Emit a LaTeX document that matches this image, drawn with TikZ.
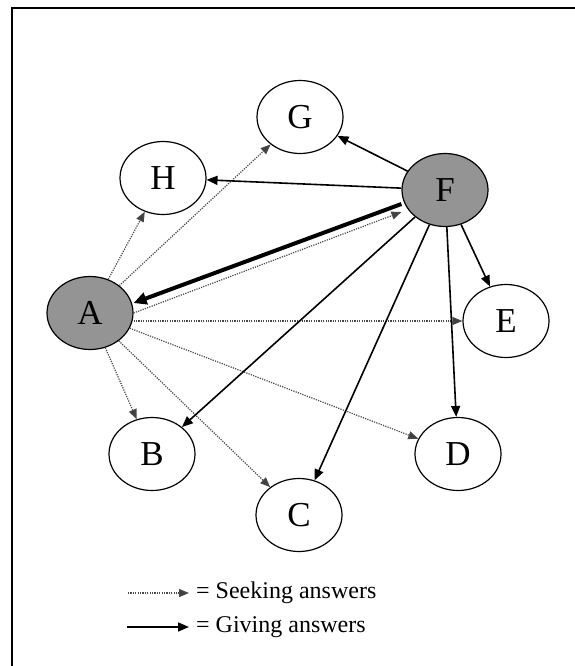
\documentclass[tikz,border=0pt]{standalone}
\usepackage{fontspec}
\setmainfont{Liberation Serif}
\usetikzlibrary{arrows.meta,shapes.geometric}
\begin{document}
\begin{tikzpicture}[x=1pt,y=-1pt,
  nd/.style={draw=black,line width=1.2pt,ellipse,minimum width=86pt,minimum height=73pt,inner sep=0pt,font=\fontsize{35}{38}\selectfont,fill=white},
  hub/.style={nd,fill=black!42},
  seek/.style={draw=black!72,line width=1.2pt,dash pattern=on 1.2pt off 1.2pt,-{Triangle[length=10pt,width=8pt,fill=black!75]}},
  give/.style={draw=black,line width=1.6pt,-{Triangle[length=11pt,width=9pt]}},
  givethick/.style={draw=black,line width=4pt,-{Triangle[length=13pt,width=12pt]}},
  legtxt/.style={anchor=west,inner sep=0pt,font=\fontsize{24}{27}\selectfont}]
\useasboundingbox (0,0) rectangle (575,666);
\draw[line width=2.6pt] (12,666) -- (12,8) -- (575,8);
\node[nd] (G) at (300,117) {G};
\node[nd] (H) at (163,178) {H};
\node[hub] (F) at (445,190) {F};
\node[hub] (A) at (90,313) {A};
\node[nd] (E) at (506,321) {E};
\node[nd] (B) at (152,454) {B};
\node[nd] (D) at (458,454) {D};
\node[nd] (C) at (299,515) {C};
% seeking
\draw[seek] (A) -- (H);
\draw[seek] (A) -- (G);
\draw[seek] (A.east) -- ([yshift=-22pt]F.west);
\draw[seek] ([yshift=-8pt]A.east) -- (E.west);
\draw[seek] (A) -- (D);
\draw[seek] (A) -- (C);
\draw[seek] (A) -- (B);
% giving
\draw[give] (F) -- (G);
\draw[give] (F) -- (H);
\draw[givethick] ([yshift=-14pt]F.west) -- ([yshift=10pt]A.east);
\draw[give] (F) -- (B);
\draw[give] (F) -- (C);
\draw[give] (F) -- (D);
\draw[give] (F) -- (E);
% legend
\coordinate (s1) at (128,593);
\coordinate (s2) at (189,593);
\coordinate (g1) at (127,627);
\coordinate (g2) at (189,627);
\draw[seek] (s1) -- (s2);
\draw[give] (g1) -- (g2);
\node[legtxt] (st) at (196,593) {= Seeking answers};
\node[legtxt] (gt) at (196,627) {= Giving answers};
\end{tikzpicture}
\end{document}
